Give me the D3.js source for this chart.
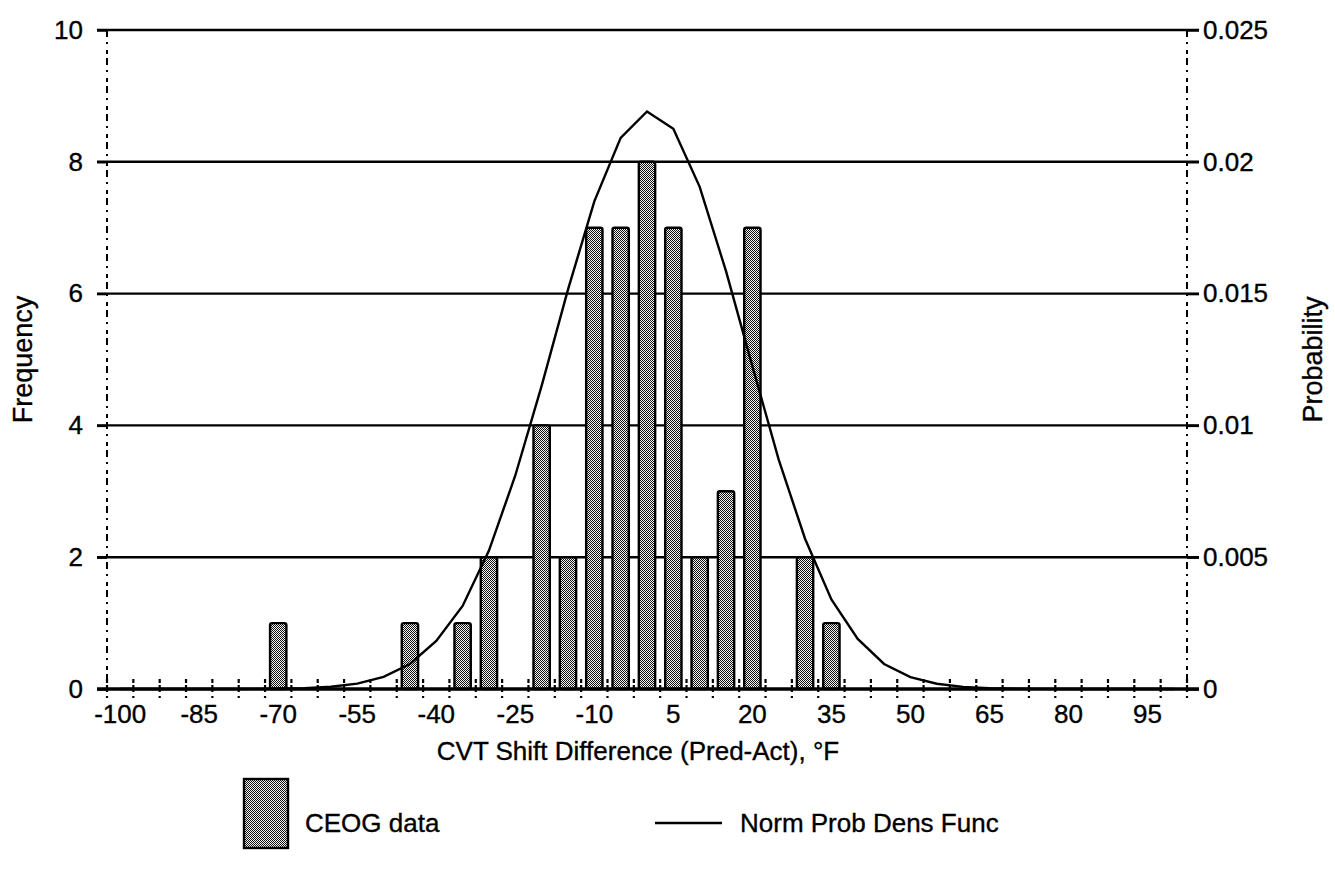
<!DOCTYPE html>
<html>
<head>
<meta charset="utf-8">
<script src="https://cdn.jsdelivr.net/npm/d3@7"></script>
<style>
  html, body { margin: 0; padding: 0; background: #fff; }
  svg { display: block; }
  text { font-family: "Liberation Sans", Arial, sans-serif; fill: #000; stroke: #000; stroke-width: 0.35px; }
</style>
</head>
<body>
<svg id="chart" width="1335" height="879"></svg>
<script>
// Bin centres of the shift difference histogram (°F)
const categories = [-100, -95, -90, -85, -80, -75, -70, -65, -60, -55, -50, -45, -40, -35, -30, -25, -20, -15, -10, -5,
  0, 5, 10, 15, 20, 25, 30, 35, 40, 45, 50, 55, 60, 65, 70, 75, 80, 85, 90, 95, 100];

// CEOG data: count per bin
const frequency = [0, 0, 0, 0, 0, 0, 1, 0, 0, 0, 0, 1, 0, 1, 2, 0, 4, 2, 7, 7,
  8, 7, 2, 3, 7, 0, 2, 1, 0, 0, 0, 0, 0, 0, 0, 0, 0, 0, 0, 0, 0];

// Normal probability density at each bin centre
const probability = [0, 0, 0, 0, 0.000001, 0.000003, 0.000012, 0.000033, 0.000086, 0.000206, 0.000459, 0.00095, 0.00182, 0.00315, 0.00525, 0.00810, 0.01150, 0.01515, 0.01850, 0.02091,
  0.02191, 0.02125, 0.01905, 0.01585, 0.01225, 0.00870, 0.00570, 0.00340, 0.00190, 0.00095, 0.00045, 0.00020, 0.00008, 0.00003, 0.000012, 0.000004, 0.000001, 0, 0, 0, 0];

// Labelled bins on the horizontal axis
const xTickLabels = [-100, -85, -70, -55, -40, -25, -10, 5, 20, 35, 50, 65, 80, 95];
const freqTicks = [0, 2, 4, 6, 8, 10];
const probTicks = [0, 0.005, 0.01, 0.015, 0.02, 0.025];

const svg = d3.select("#chart");
const plotLeft = 107, plotRight = 1187, plotTop = 30, plotBottom = 689;

// Stippled grey fill used by the bars
const defs = svg.append("defs");
const pat = defs.append("pattern")
  .attr("id", "stipple").attr("patternUnits", "userSpaceOnUse")
  .attr("width", 2).attr("height", 2);
pat.append("rect").attr("width", 2).attr("height", 2).attr("fill", "#f4f4f4");
pat.append("rect").attr("x", 0).attr("y", 0).attr("width", 1).attr("height", 1).attr("fill", "#111");
pat.append("rect").attr("x", 1).attr("y", 1).attr("width", 1).attr("height", 1).attr("fill", "#111");

const x = d3.scaleBand().domain(categories).range([plotLeft, plotRight]).paddingInner(0.38).paddingOuter(0.19);
const xEdge = d3.scaleBand().domain(categories).range([plotLeft, plotRight]).padding(0);
const yFreq = d3.scaleLinear().domain([0, 10]).range([plotBottom, plotTop]);
const yProb = d3.scaleLinear().domain([0, 0.025]).range([plotBottom, plotTop]);

// Horizontal gridlines (extend past both axes as tick marks)
svg.append("g").selectAll("line")
  .data(freqTicks.filter(d => d > 0))
  .join("line")
  .attr("x1", plotLeft - 10).attr("x2", plotRight + 12)
  .attr("y1", d => yFreq(d)).attr("y2", d => yFreq(d))
  .attr("stroke", "#000").attr("stroke-width", 2.4);

// Vertical axis lines
[plotLeft, plotRight].forEach(xx => {
  svg.append("line")
    .attr("x1", xx).attr("x2", xx).attr("y1", plotTop).attr("y2", plotBottom)
    .attr("stroke", "#000").attr("stroke-width", 2)
    .attr("stroke-dasharray", "7,5,2,6,4,4");
});

// Bars
svg.append("g").selectAll("rect")
  .data(categories.map((c, i) => ({ c, v: frequency[i] })).filter(d => d.v > 0))
  .join("rect")
  .attr("x", d => x(d.c))
  .attr("y", d => yFreq(d.v))
  .attr("width", x.bandwidth())
  .attr("height", d => yFreq(0) - yFreq(d.v))
  .attr("rx", 2)
  .attr("fill", "url(#stipple)")
  .attr("stroke", "#000").attr("stroke-width", 2.4);

// Category boundary ticks
const edges = categories.map(c => xEdge(c)).concat([xEdge.range()[1]]);
svg.append("g").selectAll("line")
  .data(edges)
  .join("line")
  .attr("x1", d => d).attr("x2", d => d)
  .attr("y1", plotBottom - 10).attr("y2", plotBottom + 10)
  .attr("stroke", "#000").attr("stroke-width", 2.2)
  .attr("stroke-dasharray", "4,2,7");

// Baseline
svg.append("line")
  .attr("x1", plotLeft - 10).attr("x2", plotRight + 12)
  .attr("y1", plotBottom).attr("y2", plotBottom)
  .attr("stroke", "#000").attr("stroke-width", 3.6);

// Normal probability density curve
const line = d3.line()
  .x((d, i) => x(categories[i]) + x.bandwidth() / 2)
  .y(d => yProb(d));
svg.append("path")
  .datum(probability)
  .attr("d", line)
  .attr("fill", "none").attr("stroke", "#000").attr("stroke-width", 2.4);

// Axes
const fontSize = "26px";
const gx = svg.append("g").attr("transform", `translate(0,${plotBottom})`)
  .call(d3.axisBottom(x).tickValues(xTickLabels).tickSize(0).tickPadding(16));
gx.select(".domain").remove();
gx.selectAll("text").style("font-size", fontSize).style("font-family", "Liberation Sans, Arial, sans-serif");

const gl = svg.append("g").attr("transform", `translate(${plotLeft},0)`)
  .call(d3.axisLeft(yFreq).tickValues(freqTicks).tickSize(10).tickPadding(14));
gl.select(".domain").remove();
gl.selectAll("line").attr("stroke-width", 2.4);
gl.selectAll("text").style("font-size", fontSize).style("font-family", "Liberation Sans, Arial, sans-serif");

const gr = svg.append("g").attr("transform", `translate(${plotRight},0)`)
  .call(d3.axisRight(yProb).tickValues(probTicks).tickSize(12).tickPadding(4).tickFormat(d => String(+d.toFixed(3))));
gr.select(".domain").remove();
gr.selectAll("line").attr("stroke-width", 2.4);
gr.selectAll("text").style("font-size", fontSize).style("font-family", "Liberation Sans, Arial, sans-serif");

// Axis titles
svg.append("text")
  .attr("transform", `translate(32,${(plotTop + plotBottom) / 2}) rotate(-90)`)
  .attr("text-anchor", "middle").style("font-size", "27px")
  .text("Frequency");
svg.append("text")
  .attr("transform", `translate(1322,${(plotTop + plotBottom) / 2}) rotate(-90)`)
  .attr("text-anchor", "middle").style("font-size", "27px")
  .text("Probability");
svg.append("text")
  .attr("x", 638).attr("y", 760)
  .attr("text-anchor", "middle").style("font-size", "26px")
  .text("CVT Shift Difference (Pred-Act), °F");

// Legend
const legend = svg.append("g");
legend.append("rect")
  .attr("x", 244).attr("y", 779).attr("width", 44).attr("height", 69)
  .attr("fill", "url(#stipple)").attr("stroke", "#000").attr("stroke-width", 2.4);
legend.append("text").attr("x", 305).attr("y", 832).style("font-size", "26px").text("CEOG data");
legend.append("line")
  .attr("x1", 655).attr("x2", 722).attr("y1", 823).attr("y2", 823)
  .attr("stroke", "#000").attr("stroke-width", 2.4);
legend.append("text").attr("x", 740).attr("y", 832).style("font-size", "26px").text("Norm Prob Dens Func");
</script>
</body>
</html>
